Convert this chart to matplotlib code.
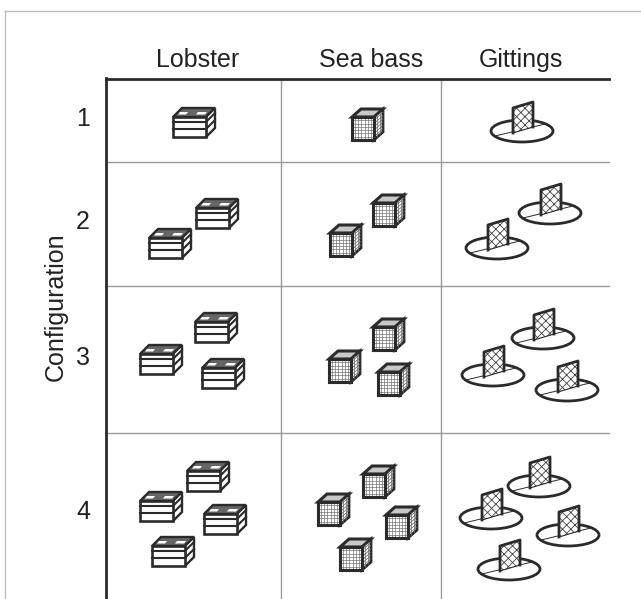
import matplotlib.pyplot as plt
from matplotlib.patches import Ellipse, Polygon, Rectangle

plt.rcParams['font.family'] = ['Liberation Sans', 'DejaVu Sans']
plt.rcParams['hatch.linewidth'] = 0.6

# Table contents
gear_names = ['Lobster', 'Sea bass', 'Gittings']
config_names = ['1', '2', '3', '4']
y_title = 'Configuration'

# Icon centres per configuration in pixels
lobster_spots = [
    [(194, 122)],
    [(217, 213), (170, 243)],
    [(216, 327), (161, 359), (223, 373)],
    [(208, 476), (161, 506), (225, 519), (173, 551)],
]
bass_spots = [
    [(367, 125)],
    [(388, 211), (345, 241)],
    [(388, 335), (344, 367), (393, 380)],
    [(378, 482), (333, 510), (401, 523), (355, 555)],
]
gitting_spots = [
    [(522, 131)],
    [(550, 213), (497, 248)],
    [(543, 338), (493, 375), (567, 390)],
    [(539, 486), (491, 518), (568, 535), (509, 569)],
]

dark = '#2b2b2b'
grey = '#9a9a9a'

fig = plt.figure(figsize=(6.41, 5.99), dpi=100)
ax = fig.add_axes([0, 0, 1, 1])
ax.set_xlim(0, 641)
ax.set_ylim(599, 0)
ax.axis('off')


def draw_lobster(cx, cy):
    x0, x1 = cx - 21, cx + 12
    y0, y1 = cy - 5, cy + 15
    dx, dy = 9, -9
    # top with a grey back band and the opening in the middle
    ax.add_patch(Polygon([(x0, y0), (x0 + dx, y0 + dy), (x1 + dx, y0 + dy), (x1, y0)],
                         fc='#666666', ec=dark, lw=1.7, zorder=3))
    ax.add_patch(Polygon([(x0 + 5, y0 - 2.5), (x0 + 7, y0 - 5), (x0 + 15, y0 - 5), (x0 + 13, y0 - 2.5)],
                         fc='white', ec='none', zorder=5))
    ax.add_patch(Polygon([(x0 + 23, y0 - 2.5), (x0 + 25, y0 - 5), (x0 + 34, y0 - 5), (x0 + 32, y0 - 2.5)],
                         fc='white', ec='none', zorder=5))
    ax.add_patch(Polygon([(x1, y0), (x1 + dx, y0 + dy), (x1 + dx, y1 + dy), (x1, y1)],
                         fc='white', ec=dark, lw=1.7, zorder=3))
    ax.add_patch(Rectangle((x0, y0), x1 - x0, y1 - y0, fc='white', ec=dark, lw=1.9, zorder=4))
    # slats
    for f in [0.25, 0.6]:
        y = y0 + f * (y1 - y0)
        ax.plot([x0, x1, x1 + dx], [y, y, y + dy], color=dark, lw=1.5, zorder=5)


def draw_bass(cx, cy):
    x0, x1 = cx - 15, cx + 7
    y0, y1 = cy - 8, cy + 15
    dx, dy = 9, -8
    top = [(x0, y0), (x0 + dx, y0 + dy), (x1 + dx, y0 + dy), (x1, y0)]
    side = [(x1, y0), (x1 + dx, y0 + dy), (x1 + dx, y1 + dy), (x1, y1)]
    ax.add_patch(Polygon(top, fc='#c8c8c8', ec=dark, lw=2.2, zorder=3))
    ax.add_patch(Polygon(side, fc='white', ec=dark, lw=2, zorder=3))
    ax.add_patch(Rectangle((x0, y0), x1 - x0, y1 - y0, fc='white', ec=dark, lw=2.2, zorder=6))
    # mesh on front and side
    n = 7
    for i in range(1, n):
        f = i / n
        x = x0 + f * (x1 - x0)
        y = y0 + f * (y1 - y0)
        ax.plot([x, x], [y0, y1], color='#666666', lw=0.45, zorder=7)
        ax.plot([x0, x1], [y, y], color='#666666', lw=0.45, zorder=7)
        ax.plot([x1, x1 + dx], [y, y + dy], color='#666666', lw=0.5, zorder=5)
    for f in [1 / 3, 2 / 3]:
        ax.plot([x1 + f * dx] * 2, [y0 + f * dy, y1 + f * dy], color='#666666', lw=0.5, zorder=5)
    ax.add_patch(Rectangle((x0, y0), x1 - x0, y1 - y0, fc='none', ec=dark, lw=2.2, zorder=8))


def draw_gitting(cx, cy):
    ax.add_patch(Ellipse((cx, cy), 62, 22, fc='white', ec=dark, lw=2, zorder=3))
    ax.plot([cx - 27, cx + 23], [cy + 5, cy - 7], color=dark, lw=0.7, zorder=4)
    panel = [(cx - 9, cy - 23), (cx + 11, cy - 29), (cx + 11, cy - 4), (cx - 9, cy + 2)]
    ax.add_patch(Polygon(panel, fc='white', ec='#444444', hatch='xxxx', lw=0, zorder=5))
    ax.add_patch(Polygon(panel, fc='none', ec=dark, lw=0.8, zorder=6))
    # heavier posts and top rope
    ax.plot([cx - 9, cx - 9, cx + 11, cx + 11], [cy + 2, cy - 23, cy - 29, cy - 4],
            color=dark, lw=2, zorder=6)


# frame around the picture
ax.plot([4.5, 4.5], [599, 10.5], color='#bdbdbd', lw=1)
ax.plot([4.5, 641], [10.5, 10.5], color='#bdbdbd', lw=1)

# table rules
for y in [162, 286, 433]:
    ax.plot([105.5, 609], [y, y], color=grey, lw=1, zorder=1)
for x in [280.5, 441]:
    ax.plot([x, x], [78.5, 599], color=grey, lw=1, zorder=1)
ax.plot([105.5, 609], [78.5, 78.5], color=dark, lw=2, zorder=2)
ax.plot([105.5, 105.5], [78, 599], color=dark, lw=2, zorder=2)

# headers
for x, name in zip([198, 371.5, 521], gear_names):
    ax.text(x, 60, name, ha='center', va='center', fontsize=18, color='#222222')
for y, name in zip([119, 222, 358, 512], config_names):
    ax.text(83, y, name, ha='center', va='center', fontsize=18, color='#222222')
ax.text(56, 307, y_title, rotation=90, ha='center', va='center', fontsize=18, color='#222222')

# icons
for spots in lobster_spots:
    for cx, cy in spots:
        draw_lobster(cx, cy)
for spots in bass_spots:
    for cx, cy in spots:
        draw_bass(cx, cy)
for spots in gitting_spots:
    for cx, cy in spots:
        draw_gitting(cx, cy)

fig.savefig('out.png', dpi=100)
